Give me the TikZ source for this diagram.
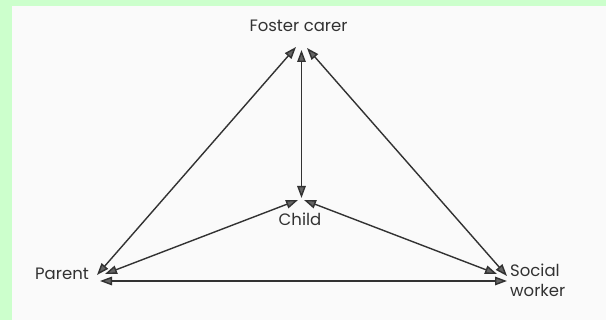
\documentclass[tikz,border=0pt]{standalone}
\usepackage{fontspec}
\setmainfont{Poppins}
\usetikzlibrary{arrows.meta}
\definecolor{framegreen}{RGB}{204,255,204}
\definecolor{paper}{RGB}{250,250,250}
\definecolor{ink}{RGB}{50,50,50}
\definecolor{headfill}{RGB}{100,100,100}
\tikzset{
  lbl/.style={text=ink, font=\fontsize{16.5}{20}\selectfont, inner sep=0pt},
  link/.style={draw=ink, line width=1.4pt,
    {Triangle[length=12pt,width=8.5pt,fill=headfill]}-{Triangle[length=12pt,width=8.5pt,fill=headfill]}}
}
\begin{document}
\begin{tikzpicture}[x=1pt,y=-1pt]
\useasboundingbox (0,0) rectangle (606,320);
\fill[framegreen] (0,0) rectangle (606,320);
\fill[paper] (12,6) rectangle (606,320);

\node[lbl] (foster) at (298.5,26) {Foster carer};
\node[lbl] (child) at (300,219) {Child};
\node[lbl] (parent) at (62,274) {Parent};
\node[lbl, align=left, anchor=west] (social) at (510,280) {Social\\worker};

\coordinate (fL) at (296,47);
\coordinate (fM) at (301.5,50);
\coordinate (fR) at (307,48);
\coordinate (cT) at (301.5,198);
\coordinate (cL) at (298,200);
\coordinate (cR) at (304,200);
\coordinate (pT) at (97,275);
\coordinate (pM) at (105,274);
\coordinate (pB) at (100,281);
\coordinate (sT) at (507,276);
\coordinate (sM) at (497,274);
\coordinate (sB) at (507,281);

\draw[link] (fL) -- (pT);
\draw[link] (fM) -- (cT);
\draw[link] (fR) -- (sT);
\draw[link] (cL) -- (pM);
\draw[link] (cR) -- (sM);
\draw[link] (pB) -- (sB);
\end{tikzpicture}
\end{document}
